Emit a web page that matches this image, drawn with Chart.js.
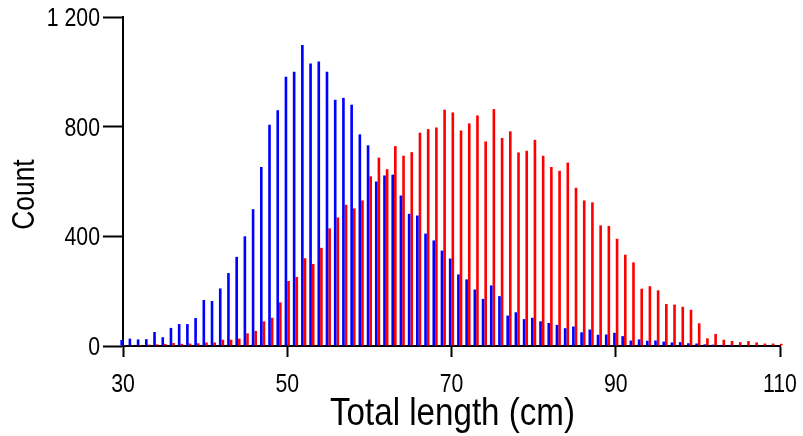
<!DOCTYPE html>
<html>
<head>
<meta charset="utf-8">
<script src="https://cdn.jsdelivr.net/npm/chart.js@4/dist/chart.umd.min.js"></script>
<style>
  html, body { margin: 0; padding: 0; background: #ffffff; }
  #wrap { width: 803px; height: 436px; }
</style>
</head>
<body>
<div id="wrap"><canvas id="c" width="803" height="436"></canvas></div>
<script>
// Length classes (cm), one bar pair per centimetre
const lengths = [];
for (let cm = 30; cm <= 110; cm++) lengths.push(cm);

// Counts per length class, first group (blue)
const countsBlue = [
  22, 27, 24, 25, 51, 32, 66, 80, 80, 102,
  168, 164, 210, 266, 325, 400, 499, 653, 807, 860,
  982, 1000, 1098, 1030, 1038, 1000, 898, 905, 880, 772,
  732, 600, 622, 625, 549, 482, 476, 410, 385, 348,
  319, 261, 243, 206, 172, 221, 182, 111, 123, 98,
  103, 90, 84, 77, 65, 71, 50, 60, 41, 42,
  48, 36, 20, 24, 19, 20, 16, 13, 14, 10,
  9, 6, 5, 4, 4, 3, 2, 2, 2, 1,
  1
];

// Counts per length class, second group (red)
const countsRed = [
  3, 4, 4, 5, 6, 7, 11, 8, 9, 10,
  13, 13, 23, 23, 27, 46, 55, 90, 103, 159,
  237, 252, 320, 299, 358, 429, 469, 515, 502, 531,
  619, 687, 645, 729, 694, 707, 778, 791, 797, 862,
  852, 786, 812, 841, 746, 864, 759, 783, 706, 712,
  752, 694, 653, 639, 669, 577, 531, 524, 440, 438,
  391, 333, 305, 209, 218, 203, 153, 151, 143, 132,
  83, 28, 44, 23, 18, 14, 18, 13, 9, 9,
  8
];

// Axis ticks and titles
const xTicks = [30, 50, 70, 90, 110];
const yTicks = [0, 400, 800, 1200];
const xTitle = 'Total length (cm)';
const yTitle = 'Count';

const FONT = "'Liberation Sans', Arial, sans-serif";
const SQUEEZE = 0.85;   // horizontal compression of all lettering

function fmtCount(v) {
  return v >= 1000 ? Math.floor(v / 1000) + ' ' + String(v % 1000).padStart(3, '0') : String(v);
}

// Draws one line of narrow text at (x, y), optionally rotated
function narrowText(ctx, text, x, y, size, align, rotate) {
  ctx.save();
  ctx.translate(x, y);
  if (rotate) ctx.rotate(rotate);
  ctx.scale(SQUEEZE, 1);
  ctx.font = size + 'px ' + FONT;
  ctx.fillStyle = '#000';
  ctx.textAlign = align;
  ctx.textBaseline = 'alphabetic';
  ctx.fillText(text, 0, 0);
  ctx.restore();
}

// Tick labels and axis titles in condensed lettering
const lettering = {
  id: 'lettering',
  afterDraw(chart) {
    const { ctx, chartArea } = chart;
    const xs = chart.scales.x, ys = chart.scales.y;
    yTicks.forEach(v => {
      narrowText(ctx, fmtCount(v), chartArea.left - 23, ys.getPixelForValue(v) + 9, 25, 'right');
    });
    xTicks.forEach(v => {
      narrowText(ctx, String(v), xs.getPixelForValue(v), chartArea.bottom + 46, 25, 'center');
    });
    narrowText(ctx, xTitle, (chartArea.left + chartArea.right) / 2 + 1, chartArea.bottom + 79, 39, 'center');
    narrowText(ctx, yTitle, 34, (chartArea.top + chartArea.bottom) / 2 + 13, 31, 'center', -Math.PI / 2);
  }
};

new Chart(document.getElementById('c'), {
  type: 'bar',
  data: {
    datasets: [
      {
        label: 'Blue',
        data: lengths.map((x, i) => ({ x, y: countsBlue[i] })),
        backgroundColor: '#0000ff',
        borderWidth: 0,
        clip: false
      },
      {
        label: 'Red',
        data: lengths.map((x, i) => ({ x, y: countsRed[i] })),
        backgroundColor: '#ff0000',
        borderWidth: 0,
        clip: false
      }
    ]
  },
  options: {
    responsive: false,
    animation: false,
    devicePixelRatio: 1,
    categoryPercentage: 0.64,
    barPercentage: 1.0,
    layout: { padding: { left: 0, right: 23, top: 17, bottom: 0 } },
    plugins: {
      legend: { display: false },
      tooltip: { enabled: false }
    },
    scales: {
      x: {
        type: 'linear',
        min: 30,
        max: 110,
        offset: false,
        afterBuildTicks(scale) { scale.ticks = xTicks.map(v => ({ value: v })); },
        afterFit(scale) { scale.height = 90; scale.paddingLeft = 0; scale.paddingRight = 0; },
        grid: {
          display: true,
          offset: false,
          drawOnChartArea: false,
          drawTicks: true,
          tickLength: 11,
          tickColor: '#000',
          tickWidth: 2
        },
        border: { display: true, color: '#000', width: 2 },
        ticks: { display: false }
      },
      y: {
        min: 0,
        max: 1200,
        afterBuildTicks(scale) { scale.ticks = yTicks.map(v => ({ value: v })); },
        afterFit(scale) { scale.width = 123; scale.paddingTop = 0; scale.paddingBottom = 0; },
        grid: {
          display: true,
          drawOnChartArea: false,
          drawTicks: true,
          tickLength: 20,
          tickColor: '#000',
          tickWidth: 2
        },
        border: { display: true, color: '#000', width: 2 },
        ticks: { display: false }
      }
    }
  },
  plugins: [lettering]
});
</script>
</body>
</html>
